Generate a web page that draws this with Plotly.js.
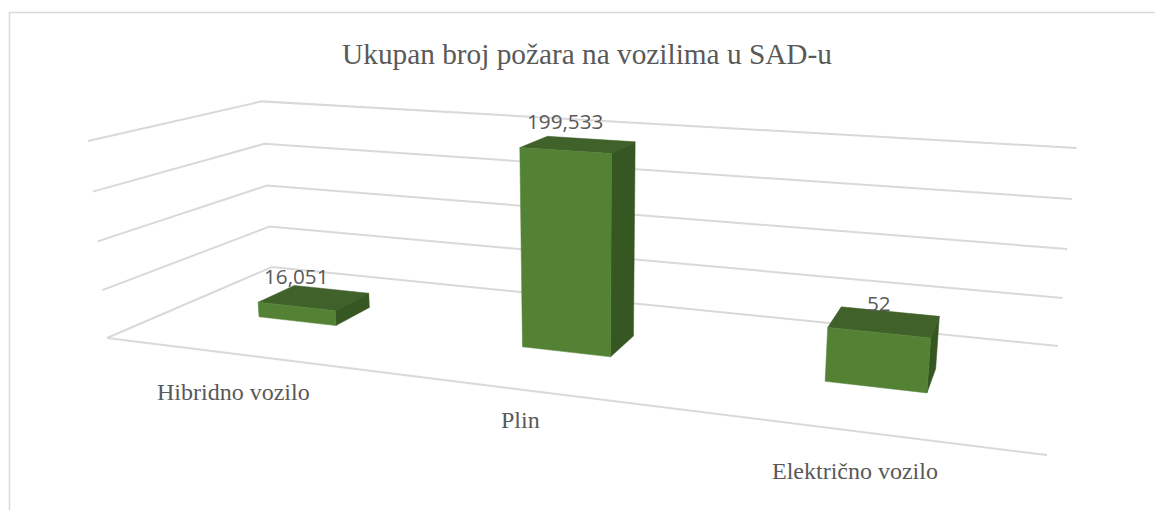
<!DOCTYPE html>
<html>
<head>
<meta charset="utf-8">
<script src="https://cdn.plot.ly/plotly-3.0.1.min.js"></script>
<style>html,body{margin:0;padding:0;background:#fff;overflow:hidden}#chart{width:1155px;height:510px}</style>
</head>
<body>
<div id="chart"></div>
<script>
// ---- data ----
var chartTitle = 'Ukupan broj požara na vozilima u SAD-u';
var categories = ['Hibridno vozilo', 'Plin', 'Električno vozilo'];
var values = [16051, 199533, 52000];
var valueLabels = ['16,051', '199,533', '52'];
var axisMax = 200000;
var axisStep = 50000;

// ---- 3D box geometry (category slot, depth) ----
var barHalfWidth = 0.051, depthFront = 0.385, depthBack = 0.622, slotShift = -0.0033;
var categoryLabelDrop = [38, 31, 39.5];
var valueLabelLift = 30;

// ---- camera: floor corners in page space plus the vertical column ----
var floor = [[107, 338], [1047, 455], [1058, 346], [272, 267]];
var vertical = {x: -22.4, y: -202.4, w: -0.038};

function makeCamera(q, vert) {
  var dx1 = q[1][0] - q[2][0], dx2 = q[3][0] - q[2][0], sx = q[0][0] - q[1][0] + q[2][0] - q[3][0];
  var dy1 = q[1][1] - q[2][1], dy2 = q[3][1] - q[2][1], sy = q[0][1] - q[1][1] + q[2][1] - q[3][1];
  var det = dx1 * dy2 - dx2 * dy1;
  var g = (sx * dy2 - dx2 * sy) / det, h = (dx1 * sy - sx * dy1) / det;
  var a = q[1][0] - q[0][0] + g * q[1][0], b = q[3][0] - q[0][0] + h * q[3][0], c = q[0][0];
  var d = q[1][1] - q[0][1] + g * q[1][1], e = q[3][1] - q[0][1] + h * q[3][1], f = q[0][1];
  return function (u, v, value) {
    var t = value / axisMax;
    var w = g * u + h * v + vert.w * t + 1;
    return [(a * u + b * v + vert.x * t + c) / w, (d * u + e * v + vert.y * t + f) / w];
  };
}
var project = makeCamera(floor, vertical);

function polyline(points) {
  var xs = [], ys = [];
  points.forEach(function (p) {
    var s = project(p[0], p[1], p[2]);
    xs.push(s[0]); ys.push(s[1]);
  });
  return {x: xs, y: ys};
}
function slotCenter(i) { return (i + 0.5) / categories.length + slotShift; }

var traces = [];
var gridColor = '#d9d9d9';

// walls and floor grid
for (var level = 0; level <= axisMax; level += axisStep) {
  var g = polyline([[0, 0, level], [0, 1, level], [1, 1, level]]);
  traces.push({x: g.x, y: g.y, type: 'scatter', mode: 'lines', hoverinfo: 'skip', showlegend: false,
    line: {color: gridColor, width: 2}});
}
var front = polyline([[0, 0, 0], [1, 0, 0]]);
traces.push({x: front.x, y: front.y, type: 'scatter', mode: 'lines', hoverinfo: 'skip', showlegend: false,
  line: {color: gridColor, width: 2}});

// bars
function face(color, cornersFor) {
  var xs = [], ys = [];
  values.forEach(function (val, i) {
    var uc = slotCenter(i);
    var p = polyline(cornersFor(uc - barHalfWidth, uc + barHalfWidth, val));
    xs = xs.concat(p.x, [p.x[0]], [null]);
    ys = ys.concat(p.y, [p.y[0]], [null]);
  });
  return {x: xs, y: ys, type: 'scatter', mode: 'lines', fill: 'toself', fillcolor: color,
    line: {color: color, width: 0.5}, hoverinfo: 'skip', showlegend: false};
}
traces.push(face('#40622a', function (l, r, val) {
  return [[l, depthFront, val], [r, depthFront, val], [r, depthBack, val], [l, depthBack, val]];
}));
traces.push(face('#365622', function (l, r, val) {
  return [[r, depthFront, 0], [r, depthBack, 0], [r, depthBack, val], [r, depthFront, val]];
}));
traces.push(face('#548235', function (l, r, val) {
  return [[l, depthFront, 0], [r, depthFront, 0], [r, depthFront, val], [l, depthFront, val]];
}));

// text
var annotations = [];
values.forEach(function (val, i) {
  var uc = slotCenter(i);
  var top = project(uc, depthFront, val);
  annotations.push({x: top[0], y: top[1] - valueLabelLift, xref: 'x', yref: 'y', text: valueLabels[i],
    showarrow: false, xanchor: 'center', yanchor: 'middle',
    font: {family: 'Open Sans, sans-serif', size: 20.7, color: '#595959'}});
  var base = project(uc, 0, 0);
  annotations.push({x: base[0], y: base[1] + categoryLabelDrop[i], xref: 'x', yref: 'y', text: categories[i],
    showarrow: false, xanchor: 'center', yanchor: 'middle',
    font: {family: 'Liberation Serif, serif', size: 24, color: '#595959'}});
});

var layout = {
  width: 1155, height: 510,
  margin: {l: 0, r: 0, t: 0, b: 0, pad: 0},
  paper_bgcolor: '#ffffff', plot_bgcolor: '#ffffff',
  showlegend: false,
  title: {text: chartTitle, x: 587 / 1155, xanchor: 'center', y: 1 - 54 / 510, yanchor: 'middle',
    font: {family: 'Liberation Serif, serif', size: 29.3, color: '#595959'}},
  xaxis: {range: [0, 1155], visible: false, fixedrange: true},
  yaxis: {range: [510, 0], visible: false, fixedrange: true},
  annotations: annotations,
  shapes: [{type: 'path', xref: 'paper', yref: 'paper',
    path: 'M ' + (9.5 / 1155) + ' 0 L ' + (9.5 / 1155) + ' ' + (1 - 12.5 / 510) + ' L 1 ' + (1 - 12.5 / 510),
    line: {color: '#d9d9d9', width: 1.5}, layer: 'below'}]
};
Plotly.newPlot('chart', traces, layout, {displayModeBar: false, staticPlot: true});
</script>
</body>
</html>
